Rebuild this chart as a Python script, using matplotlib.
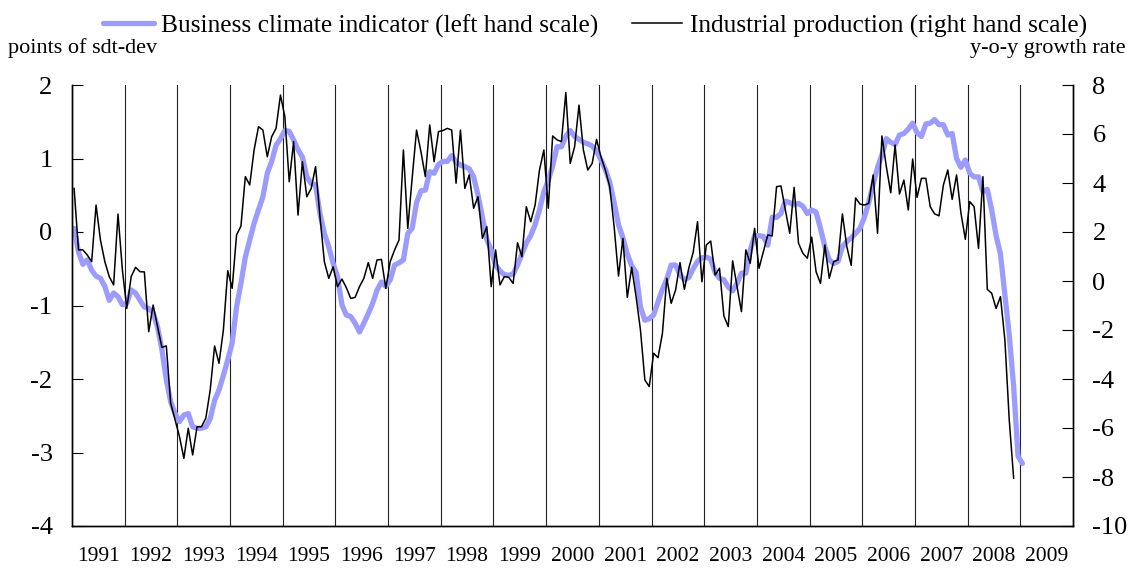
import numpy as np
import matplotlib
matplotlib.use("Agg")
import matplotlib.pyplot as plt
from matplotlib.lines import Line2D

plt.rcParams["font.family"] = ["Liberation Serif", "DejaVu Serif"]
plt.rcParams["axes.unicode_minus"] = False

# Business climate indicator, monthly, Jan 1991 - Jan 2009 (points of std-dev)
bci_1991 = [0.05, -0.27, -0.44, -0.38, -0.52, -0.6, -0.63, -0.74, -0.93, -0.83, -0.88, -0.99]
bci_1992 = [-0.97, -0.79, -0.83, -0.93, -1.02, -1.04, -1.1, -1.29, -1.6, -2.01, -2.31, -2.47]
bci_1993 = [-2.58, -2.49, -2.47, -2.65, -2.67, -2.67, -2.65, -2.54, -2.29, -2.15, -1.95, -1.74]
bci_1994 = [-1.51, -1.02, -0.7, -0.34, -0.11, 0.12, 0.3, 0.48, 0.8, 0.96, 1.18, 1.27]
bci_1995 = [1.38, 1.37, 1.25, 1.12, 1.02, 0.75, 0.66, 0.64, 0.25, -0.02, -0.2, -0.43]
bci_1996 = [-0.61, -0.99, -1.13, -1.15, -1.24, -1.36, -1.24, -1.11, -0.97, -0.79, -0.68, -0.74]
bci_1997 = [-0.65, -0.45, -0.42, -0.38, -0.02, 0.05, 0.4, 0.56, 0.57, 0.82, 0.8, 0.92]
bci_1998 = [0.96, 0.96, 1.04, 0.95, 0.91, 0.89, 0.86, 0.75, 0.5, 0.2, -0.1, -0.25]
bci_1999 = [-0.45, -0.53, -0.58, -0.59, -0.57, -0.45, -0.3, -0.15, -0.05, 0.1, 0.3, 0.55]
bci_2000 = [0.7, 0.9, 1.16, 1.16, 1.3, 1.38, 1.3, 1.26, 1.22, 1.2, 1.17, 1.1]
bci_2001 = [0.98, 0.85, 0.68, 0.4, 0.1, -0.08, -0.3, -0.46, -0.55, -1.02, -1.2, -1.18]
bci_2002 = [-1.13, -0.95, -0.78, -0.64, -0.45, -0.45, -0.58, -0.65, -0.62, -0.5, -0.4, -0.35]
bci_2003 = [-0.34, -0.37, -0.55, -0.63, -0.65, -0.75, -0.8, -0.7, -0.56, -0.56, -0.25, -0.05]
bci_2004 = [-0.05, -0.06, -0.18, 0.2, 0.2, 0.25, 0.42, 0.4, 0.37, 0.39, 0.35, 0.25]
bci_2005 = [0.3, 0.27, 0.05, -0.2, -0.38, -0.43, -0.4, -0.2, -0.13, -0.08, -0.02, 0.05]
bci_2006 = [0.2, 0.4, 0.65, 0.88, 1.05, 1.27, 1.22, 1.19, 1.32, 1.34, 1.4, 1.48]
bci_2007 = [1.35, 1.3, 1.47, 1.48, 1.53, 1.46, 1.46, 1.32, 1.34, 1.0, 0.88, 0.98]
bci_2008 = [0.8, 0.75, 0.75, 0.55, 0.58, 0.3, -0.05, -0.3, -0.85, -1.4, -2.1, -3.05]
bci_2009 = [-3.15]

# Industrial production, y-o-y growth rate, Jan 1991 - Nov 2008
ip_1991 = [3.78, 1.27, 1.27, 1.06, 0.79, 3.1, 1.67, 0.79, 0.18, -0.16, 2.73, 0.45]
ip_1992 = [-1.12, 0.18, 0.56, 0.38, 0.37, -2.07, -0.98, -1.86, -2.71, -2.65, -4.99, -5.67]
ip_1993 = [-6.35, -7.24, -6.01, -7.1, -5.95, -5.95, -5.6, -4.45, -2.65, -3.36, -2.0, 0.42]
ip_1994 = [-0.3, 1.88, 2.24, 4.26, 3.92, 5.35, 6.3, 6.16, 5.07, 5.89, 6.23, 7.59]
ip_1995 = [6.71, 4.05, 5.69, 2.69, 4.87, 3.44, 3.78, 4.67, 2.63, 0.79, 0.11, 0.58]
ip_1996 = [-0.23, 0.08, -0.27, -0.71, -0.67, -0.23, 0.11, 0.75, 0.11, 0.86, 0.88, -0.3]
ip_1997 = [0.79, 1.27, 1.67, 5.35, 2.15, 4.2, 6.16, 5.28, 4.26, 6.37, 4.87, 6.1]
ip_1998 = [6.14, 6.23, 6.16, 3.99, 6.16, 3.78, 4.33, 2.97, 3.44, 1.74, 2.22, -0.23]
ip_1999 = [1.27, -0.16, 0.18, 0.15, -0.1, 1.56, 0.99, 3.03, 2.42, 3.1, 4.53, 5.35]
ip_2000 = [2.97, 5.92, 5.76, 5.69, 7.69, 4.8, 5.48, 7.18, 5.35, 4.53, 4.8, 5.78]
ip_2001 = [5.07, 4.53, 3.85, 2.22, 0.2, 1.74, -0.67, 0.56, -0.64, -2.0, -4.04, -4.31]
ip_2002 = [-2.95, -3.13, -2.14, 0.11, -0.91, -0.37, 0.75, -0.34, 0.52, 1.16, 2.42, -0.03]
ip_2003 = [1.47, 1.63, 0.24, 0.52, -1.43, -1.86, 0.82, -0.23, -1.25, 1.27, 0.72, 2.15]
ip_2004 = [0.52, 1.2, 1.88, 1.84, 3.85, 3.88, 2.9, 1.95, 3.82, 1.54, 1.13, 0.93]
ip_2005 = [1.79, 0.38, -0.1, 1.47, 0.11, 0.79, 0.86, 2.74, 1.4, 0.64, 3.39, 3.14]
ip_2006 = [3.1, 3.17, 4.33, 1.95, 5.92, 4.67, 3.6, 5.55, 3.55, 4.12, 2.9, 4.98]
ip_2007 = [3.41, 4.19, 4.19, 3.03, 2.74, 2.66, 3.92, 4.53, 3.33, 4.33, 2.77, 1.7]
ip_2008 = [3.24, 3.03, 1.33, 4.26, -0.34, -0.5, -1.12, -0.64, -2.4, -5.67, -8.05]

years = list(range(1991, 2010))

bci = (bci_1991 + bci_1992 + bci_1993 + bci_1994 + bci_1995 + bci_1996 + bci_1997
       + bci_1998 + bci_1999 + bci_2000 + bci_2001 + bci_2002 + bci_2003 + bci_2004
       + bci_2005 + bci_2006 + bci_2007 + bci_2008 + bci_2009)
ip = (ip_1991 + ip_1992 + ip_1993 + ip_1994 + ip_1995 + ip_1996 + ip_1997
      + ip_1998 + ip_1999 + ip_2000 + ip_2001 + ip_2002 + ip_2003 + ip_2004
      + ip_2005 + ip_2006 + ip_2007 + ip_2008)

# x in years since Jan 1991, points roughly mid-month
x_bci = np.arange(len(bci)) / 12 + 0.04
x_ip = np.arange(len(ip)) / 12 + 0.04

fig = plt.figure(figsize=(11.35, 5.68), dpi=100)
ax = fig.add_axes([72 / 1135, 1 - 526 / 568, (1073 - 72) / 1135, (526 - 85) / 568])
ax2 = ax.twinx()

for k in range(1, len(years)):
    ax.axvline(k, color="#222222", lw=0.8, zorder=1)

blue, = ax.plot(x_bci, bci, color="#9c9cff", lw=3.8, solid_capstyle="round", zorder=2)
black, = ax2.plot(x_ip, ip, color="black", lw=1.1, zorder=3)

ax.set_xlim(0, len(years))
ax.set_ylim(-4, 2)
ax2.set_ylim(-10, 8)
ax.set_yticks(range(-4, 3))
ax2.set_yticks(range(-10, 9, 2))

ax.set_xticks(range(0, len(years) + 1))
ax.set_xticklabels([])
ax.set_xticks(np.arange(len(years)) + 0.5, minor=True)
ax.set_xticklabels([str(y) for y in years], minor=True, fontsize=15.5)
ax.tick_params(axis="x", which="both", length=0, pad=15)

ax.tick_params(axis="y", direction="in", length=8, labelsize=19, pad=14)
ax2.tick_params(axis="y", direction="in", length=8, labelsize=19, pad=14)

for a in (ax, ax2):
    a.spines["top"].set_visible(False)
    for s in ("left", "right", "bottom"):
        a.spines[s].set_linewidth(1.0)

fig.text(8 / 1135, 1 - 48 / 568, "points of sdt-dev", fontsize=16, va="center", ha="left")
fig.text(1126 / 1135, 1 - 48 / 568, "y-o-y growth rate", fontsize=16, va="center", ha="right")

h1 = Line2D([], [], color="#9c9cff", lw=3.8, solid_capstyle="round")
h2 = Line2D([], [], color="black", lw=1.1)
fig.legend([h1, h2], ["Business climate indicator (left hand scale)",
                      "Industrial production (right hand scale)"],
           ncol=2, frameon=False, fontsize=18.3, loc="center",
           bbox_to_anchor=(595 / 1135, 1 - 26 / 568),
           handlelength=2.0, handletextpad=0.3, columnspacing=1.3,
           borderpad=0, borderaxespad=0)

fig.savefig("out.png", dpi=100)
